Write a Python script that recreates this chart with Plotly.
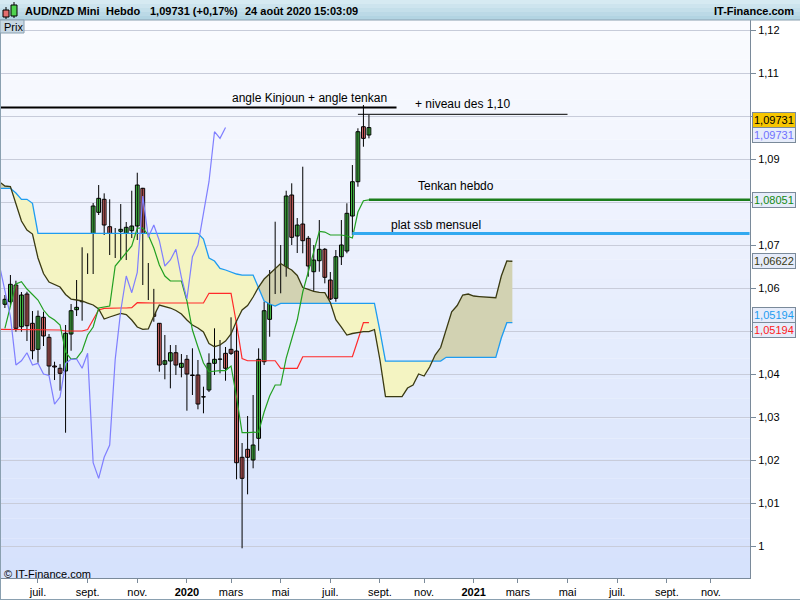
import numpy as np
import pandas as pd
import plotly.graph_objects as go

# ---------------- data ----------------
bar_dates = pd.date_range("2019-05-20", periods=67, freq="7D")   # weekly bars
opens = [1.05621, 1.05681, 1.06070, 1.05100, 1.05860, 1.05179, 1.04574, 1.05319, 1.04853, 1.04186,
         1.04133, 1.04070, 1.04930, 1.05495, 1.05681, 1.06767, 1.06574, 1.07760, 1.08063, 1.07426,
         1.07093, 1.07319, 1.07272, 1.07333, 1.07442, 1.08319, 1.06481, 1.05970, 1.05179, 1.04226,
         1.04302, 1.04495, 1.04156, 1.04342, 1.03977, 1.03977, 1.03472, 1.03628, 1.04249, 1.04342,
         1.04481, 1.04574, 1.04535, 1.02063, 1.02249, 1.02000, 1.02505, 1.04286, 1.05272, 1.06226,
         1.05970, 1.06419, 1.08163, 1.07209, 1.07488, 1.07156, 1.06379, 1.06635, 1.06900, 1.06186,
         1.05760, 1.06728, 1.06860, 1.07674, 1.08472, 1.09751, 1.09558]
highs = [1.05837, 1.06302, 1.06170, 1.05907, 1.05914, 1.05465, 1.05477, 1.05449, 1.04930, 1.04286,
         1.04230, 1.05140, 1.05628, 1.06186, 1.06947, 1.06807, 1.07977, 1.08395, 1.08202, 1.08063,
         1.07395, 1.07953, 1.07535, 1.08263, 1.08681, 1.08330, 1.06581, 1.05980, 1.05186, 1.04907,
         1.04674, 1.04674, 1.04465, 1.04442, 1.04598, 1.04326, 1.03705, 1.04481, 1.05063, 1.04791,
         1.04628, 1.05319, 1.05256, 1.02395, 1.03023, 1.03512, 1.04598, 1.05681, 1.06419, 1.07542,
         1.07000, 1.08263, 1.08435, 1.07628, 1.08821, 1.07210, 1.07000, 1.07581, 1.06930, 1.06372,
         1.06884, 1.07581, 1.07970, 1.08860, 1.09714, 1.10256, 1.10023]
lows = [1.05535, 1.05565, 1.04984, 1.04984, 1.04767, 1.04342, 1.04263, 1.04651, 1.03977, 1.03860,
        1.03612, 1.02635, 1.04542, 1.05349, 1.05240, 1.06326, 1.06326, 1.07698, 1.07233, 1.06767,
        1.06698, 1.06651, 1.06651, 1.07163, 1.07116, 1.06070, 1.05721, 1.05216, 1.04053, 1.03877,
        1.03667, 1.03977, 1.03923, 1.03147, 1.03512, 1.03179, 1.03086, 1.03581, 1.03977, 1.04016,
        1.03844, 1.04442, 1.01551, 0.99947, 1.01202, 1.01807, 1.02216, 1.04209, 1.04867, 1.05860,
        1.05877, 1.06263, 1.07000, 1.06814, 1.06807, 1.06263, 1.05914, 1.06379, 1.06109, 1.05721,
        1.05681, 1.06535, 1.06807, 1.07233, 1.08356, 1.09286, 1.09481]
closes = [1.05737, 1.06086, 1.05063, 1.05837, 1.05123, 1.04542, 1.05342, 1.04884, 1.04186, 1.04163,
          1.04016, 1.04947, 1.05472, 1.05551, 1.06767, 1.06574, 1.07907, 1.08086, 1.07465, 1.07209,
          1.07193, 1.07365, 1.07412, 1.07442, 1.08395, 1.06535, 1.05937, 1.05342, 1.04209, 1.04309,
          1.04495, 1.04209, 1.04249, 1.04000, 1.03965, 1.03302, 1.03465, 1.04249, 1.04342, 1.04349,
          1.04133, 1.04481, 1.01937, 1.01574, 1.02063, 1.02349, 1.04342, 1.05472, 1.06279, 1.05891,
          1.06365, 1.08140, 1.07179, 1.07465, 1.07100, 1.06512, 1.06651, 1.06900, 1.06249, 1.05744,
          1.06728, 1.07000, 1.07737, 1.08472, 1.09635, 1.09481, 1.09731]

tenkan_dates = pd.date_range("2019-05-20", periods=67, freq="7D")
tenkan = [1.05063, 1.05558, 1.06093, 1.06147, 1.05977, 1.05849, 1.05721, 1.05488, 1.05337, 1.05256,
          1.05140, 1.04512, 1.04349, 1.04365, 1.04535, 1.04907, 1.05093, 1.05535, 1.05558, 1.05581,
          1.06512, 1.06674, 1.06837, 1.06977, 1.07395, 1.07395, 1.07233, 1.06930, 1.06535, 1.06279,
          1.06163, 1.06163, 1.06163, 1.05698, 1.05023, 1.04628, 1.04256, 1.04053, 1.04070, 1.04081,
          1.04081, 1.04186, 1.03465, 1.02635, 1.02635, 1.02635, 1.02651, 1.03116, 1.03488, 1.03744,
          1.03744, 1.04372, 1.04791, 1.05256, 1.05907, 1.06372, 1.06837, 1.07314, 1.07302, 1.07233,
          1.07233, 1.07233, 1.07209, 1.07163, 1.07767, 1.08030, 1.08051]

kijun_dates = pd.date_range("2019-05-13", periods=68, freq="7D")
kijun = [1.05040, 1.05040, 1.05040, 1.05040, 1.05040, 1.05040, 1.05040, 1.05040, 1.05040, 1.05040,
         1.05040, 1.05023, 1.05000, 1.05000, 1.05000, 1.05000, 1.05035, 1.05256, 1.05488, 1.05528,
         1.05535, 1.05535, 1.05535, 1.05535, 1.05542, 1.05658, 1.05651, 1.05651, 1.05651, 1.05651,
         1.05651, 1.05651, 1.05651, 1.05651, 1.05651, 1.05651, 1.05651, 1.05651, 1.05877, 1.05877,
         1.05877, 1.05877, 1.05877, 1.05163, 1.04360, 1.04309, 1.04309, 1.04309, 1.04309, 1.04309,
         1.04309, 1.04133, 1.04133, 1.04133, 1.04133, 1.04402, 1.04402, 1.04402, 1.04402, 1.04402,
         1.04402, 1.04402, 1.04402, 1.04402, 1.04402, 1.04791, 1.05194, 1.05194]

cloud_dates = pd.date_range("2019-05-13", periods=94, freq="7D")   # spans shifted 26 weeks ahead
ssa = [1.08472, 1.08372, 1.08360, 1.07977, 1.07558, 1.07349, 1.07256, 1.06698, 1.06337, 1.06140,
       1.06081, 1.06023, 1.05849, 1.05744, 1.05721, 1.05698, 1.05651, 1.05605, 1.05512, 1.05279,
       1.05326, 1.05372, 1.05412, 1.05384, 1.05256, 1.05093, 1.05040, 1.05047, 1.05349, 1.05605,
       1.05570, 1.05535, 1.05477, 1.05395, 1.05256, 1.05140, 1.05070, 1.04977, 1.04709, 1.04635,
       1.04674, 1.04767, 1.04930, 1.05233, 1.05488, 1.05593, 1.05791, 1.06023, 1.06209, 1.06337,
       1.06465, 1.06570, 1.06488, 1.06419, 1.06291, 1.06012, 1.05970, 1.05923, 1.05900, 1.05891,
       1.05663, 1.05263, 1.05093, 1.04907, 1.04942, 1.04970, 1.04984, 1.04988, 1.05035, 1.04326,
       1.03472, 1.03472, 1.03472, 1.03477, 1.03674, 1.03744, 1.04000, 1.03953, 1.04163, 1.04442,
       1.04616, 1.05047, 1.05449, 1.05593, 1.05837, 1.05860, 1.05814, 1.05802, 1.05791, 1.05779,
       1.05774, 1.06279, 1.06628, 1.06622]
ssb = [1.08319, 1.08319, 1.08319, 1.08209, 1.08063, 1.08063, 1.07970, 1.07272, 1.07272, 1.07272,
       1.07272, 1.07272, 1.07272, 1.07272, 1.07272, 1.07272, 1.07272, 1.07272, 1.07272, 1.07272,
       1.07272, 1.07272, 1.07272, 1.07272, 1.07272, 1.07272, 1.07272, 1.07272, 1.07272, 1.07272,
       1.07272, 1.07272, 1.07272, 1.07272, 1.07272, 1.07272, 1.07272, 1.07140, 1.06698, 1.06628,
       1.06458, 1.06419, 1.06372, 1.06326, 1.06302, 1.06302, 1.06302, 1.06000, 1.05698, 1.05628,
       1.05581, 1.05644, 1.05644, 1.05644, 1.05644, 1.05644, 1.05644, 1.05644, 1.05644, 1.05644,
       1.05644, 1.05644, 1.05644, 1.05644, 1.05644, 1.05644, 1.05644, 1.05644, 1.05644, 1.05000,
       1.04302, 1.04302, 1.04302, 1.04302, 1.04302, 1.04302, 1.04302, 1.04302, 1.04302, 1.04302,
       1.04302, 1.04388, 1.04388, 1.04388, 1.04388, 1.04388, 1.04388, 1.04388, 1.04388, 1.04388,
       1.04388, 1.04837, 1.05194, 1.05194]

chikou_shift_weeks = 26

# hand-drawn lines on the chart
drawn_labels = ["angle Kinjoun + angle tenkan", "+ niveau des 1,10", "Tenkan hebdo", "plat ssb mensuel"]
drawn_levels = [1.1020, 1.1004, 1.08051, 1.0727]
drawn_start = ["2019-05-06", "2020-08-10", "2020-08-24", "2020-08-03"]
drawn_end = ["2020-09-28", "2021-05-03", "2021-12-27", "2021-12-20"]
drawn_colors = ["#000000", "#000000", "#1b7d1b", "#33aaf0"]
drawn_widths = [2, 1, 2.5, 3]

x_tickvals = ["2019-07-01", "2019-09-02", "2019-11-04", "2020-01-06", "2020-03-02", "2020-05-04",
              "2020-07-06", "2020-09-07", "2020-11-02", "2021-01-04", "2021-03-01", "2021-05-03",
              "2021-07-05", "2021-09-06", "2021-11-01"]
x_ticktext = ["juil.", "sept.", "nov.", "<b>2020</b>", "mars", "mai", "juil.", "sept.", "nov.",
              "<b>2021</b>", "mars", "mai", "juil.", "sept.", "nov."]
# 1,05 / 1,08 / 1,10 labels are hidden behind the value tags in the reference
y_tickvals = [1.00, 1.01, 1.02, 1.03, 1.04, 1.05, 1.06, 1.07, 1.08, 1.09, 1.10, 1.11, 1.12]
y_ticktext = ["1", "1,01", "1,02", "1,03", "1,04", "", "1,06", "1,07", "", "1,09", "", "1,11", "1,12"]

# ---------------- figure ----------------
FONT = "Liberation Sans, Arial, sans-serif"
W_PLOT, TOP, BOT = 750, 20, 578


def PX(x):
    return x / W_PLOT


def PY(y):
    return (BOT - y) / (BOT - TOP)


fig = go.Figure()

# cloud fill (split where the spans cross)
t = cloud_dates.values.astype("datetime64[ms]").astype(np.int64).astype(float)
a = np.array(ssa)
b = np.array(ssb)
segs = []
cx, ca, cb = [t[0]], [a[0]], [b[0]]
sign = a[0] >= b[0]
for i in range(1, len(t)):
    s = a[i] >= b[i]
    if s != sign:
        d0, d1 = a[i - 1] - b[i - 1], a[i] - b[i]
        f = d0 / (d0 - d1)
        xc = t[i - 1] + f * (t[i] - t[i - 1])
        yc = a[i - 1] + f * (a[i] - a[i - 1])
        cx.append(xc); ca.append(yc); cb.append(yc)
        segs.append((cx, ca, cb, sign))
        cx, ca, cb = [xc], [yc], [yc]
        sign = s
    cx.append(t[i]); ca.append(a[i]); cb.append(b[i])
segs.append((cx, ca, cb, sign))
for sx, sa, sb, sg in segs:
    xs = list(sx) + list(sx)[::-1]
    ys = list(sa) + list(sb)[::-1]
    fig.add_trace(go.Scatter(
        x=pd.to_datetime(np.array(xs), unit="ms"), y=ys, mode="lines", fill="toself",
        fillcolor="#d2d2b2" if sg else "#f4f4c2", line=dict(width=0), hoverinfo="skip"))

# candles: wicks + bodies
wx, wy = [], []
for d, lo, hi in zip(bar_dates, lows, highs):
    wx += [d, d, None]
    wy += [lo, hi, None]
fig.add_trace(go.Scatter(x=wx, y=wy, mode="lines", line=dict(color="black", width=1), hoverinfo="skip"))
body_col = ["#4fd34f" if c >= o else "#e46e6e" for o, c in zip(opens, closes)]
fig.add_trace(go.Bar(x=bar_dates, y=[c - o for o, c in zip(opens, closes)], base=opens,
                     width=4.8 * 86400000, marker=dict(color=body_col, line=dict(color="black", width=1))))

# ichimoku lines
fig.add_trace(go.Scatter(x=kijun_dates, y=kijun, mode="lines", line=dict(color="#ff2a2a", width=1.2)))
fig.add_trace(go.Scatter(x=cloud_dates, y=ssb, mode="lines", line=dict(color="#1e9cf0", width=1.3)))
fig.add_trace(go.Scatter(x=cloud_dates, y=ssa, mode="lines", line=dict(color="#3a3a12", width=1.3)))
fig.add_trace(go.Scatter(x=tenkan_dates, y=tenkan, mode="lines", line=dict(color="#22a022", width=1.2)))
fig.add_trace(go.Scatter(x=bar_dates - pd.Timedelta(weeks=chikou_shift_weeks), y=closes, mode="lines",
                         line=dict(color="#7f7fff", width=1.2)))

# drawn lines
for lv, d0, d1, col, w in zip(drawn_levels, drawn_start, drawn_end, drawn_colors, drawn_widths):
    fig.add_trace(go.Scatter(x=[d0, d1], y=[lv, lv], mode="lines", line=dict(color=col, width=w)))

# ---------------- decorations ----------------
shapes = []
# plot gradient background
n = 28
c0, c1 = np.array([250, 251, 255]), np.array([214, 226, 252])
for i in range(n):
    f = i / (n - 1)
    c = (c0 + (c1 - c0) * f).astype(int)
    y0 = TOP + i * (BOT - TOP) / n
    y1 = TOP + (i + 1) * (BOT - TOP) / n
    shapes.append(dict(type="rect", xref="paper", yref="paper", x0=0, x1=1, y0=PY(y1), y1=PY(y0),
                       fillcolor=f"rgb({c[0]},{c[1]},{c[2]})", line=dict(width=0), layer="below"))
# header band
hc0, hc1 = np.array([214, 234, 242]), np.array([178, 212, 226])
for i in range(5):
    f = i / 4
    c = (hc0 + (hc1 - hc0) * f).astype(int)
    shapes.append(dict(type="rect", xref="paper", yref="paper", x0=0, x1=PX(800),
                       y0=PY(4 * (i + 1)), y1=PY(4 * i),
                       fillcolor=f"rgb({c[0]},{c[1]},{c[2]})", line=dict(width=0), layer="below"))
shapes.append(dict(type="line", xref="paper", yref="paper", x0=0, x1=PX(800), y0=PY(20), y1=PY(20),
                   line=dict(color="#8aa0b0", width=1)))
shapes.append(dict(type="line", xref="paper", yref="paper", x0=PX(0.5), x1=PX(0.5), y0=PY(20), y1=PY(600),
                   line=dict(color="#8aa0b0", width=1)))
shapes.append(dict(type="line", xref="paper", yref="paper", x0=0, x1=PX(800), y0=PY(599.5), y1=PY(599.5),
                   line=dict(color="#8aa0b0", width=1)))
# Prix box
shapes.append(dict(type="rect", xref="paper", yref="paper", x0=0, x1=PX(24), y0=PY(33), y1=PY(20),
                   fillcolor="#c8d8e4", line=dict(color="#8aa0b0", width=1)))
# header icon candles
shapes += [
    dict(type="line", xref="paper", yref="paper", x0=PX(6), x1=PX(6), y0=PY(19), y1=PY(7), line=dict(color="black", width=1)),
    dict(type="rect", xref="paper", yref="paper", x0=PX(3), x1=PX(9), y0=PY(17), y1=PY(10), fillcolor="#e46e6e", line=dict(color="black", width=1)),
    dict(type="line", xref="paper", yref="paper", x0=PX(14), x1=PX(14), y0=PY(18), y1=PY(2), line=dict(color="black", width=1)),
    dict(type="rect", xref="paper", yref="paper", x0=PX(11), x1=PX(17), y0=PY(16), y1=PY(5), fillcolor="#4fd34f", line=dict(color="black", width=1)),
]

ann = []
hdr = [("AUD/NZD Mini", 23), ("Hebdo", 104), ("1,09731 (+0,17%)", 148), ("24 août 2020 15:03:09", 243)]
for txt, xx in hdr:
    ann.append(dict(xref="paper", yref="paper", x=PX(xx), y=PY(10.5), xanchor="left", yanchor="middle",
                    text=f"<b>{txt}</b>", showarrow=False, font=dict(size=11, color="black", family=FONT)))
ann.append(dict(xref="paper", yref="paper", x=PX(796), y=PY(10.5), xanchor="right", yanchor="middle",
                text="<b>IT-Finance.com</b>", showarrow=False, font=dict(size=11, color="black", family=FONT)))
ann.append(dict(xref="paper", yref="paper", x=PX(2), y=PY(26.5), xanchor="left", yanchor="middle",
                text="Prix", showarrow=False, font=dict(size=11, color="black", family=FONT)))
ann.append(dict(xref="paper", yref="paper", x=PX(2), y=PY(574), xanchor="left", yanchor="middle",
                text="© IT-Finance.com", showarrow=False, font=dict(size=11, color="black", family=FONT)))

# text of drawn lines
label_pos = [(309, 98), (463, 104), (456, 186), (436, 225)]
for txt, (xx, yy) in zip(drawn_labels, label_pos):
    ann.append(dict(xref="paper", yref="paper", x=PX(xx), y=PY(yy), xanchor="center", yanchor="middle",
                    text=txt, showarrow=False, font=dict(size=12, color="black", family=FONT)))


def fmt(v):
    return f"{v:.5f}".replace(".", ",")


value_tags = [
    (closes[-1], "#000000", "#f7c600", 8),
    (closes[-1], "#7070ff", "#e6ecfa", -7),
    (tenkan[-1], "#138a13", "#e6ecfa", 0),
    (ssa[-1], "#3a3a12", "#e6ecfa", 0),
    (ssb[-1], "#1e9cf0", "#e6ecfa", 8),
    (kijun[-1], "#ff2020", "#e6ecfa", -7),
]
for v, fc, bg, ys in value_tags:
    ann.append(dict(xref="paper", yref="y", x=1, y=v, xanchor="left", yanchor="middle", xshift=2, yshift=ys,
                    text=fmt(v), showarrow=False, font=dict(size=11, color=fc, family=FONT),
                    bgcolor=bg, bordercolor="#7a8a9a", borderwidth=1, borderpad=1))

fig.update_layout(
    width=800, height=600, margin=dict(l=0, r=50, t=20, b=22),
    paper_bgcolor="white", plot_bgcolor="rgba(0,0,0,0)", showlegend=False,
    font=dict(family=FONT, size=11, color="black"),
    shapes=shapes, annotations=ann,
    xaxis=dict(type="date", range=["2019-05-13 19:00", "2021-12-20 14:00"], tickvals=x_tickvals,
               ticktext=x_ticktext, ticks="outside", ticklen=4, tickcolor="#7a8a9a", showgrid=False,
               showline=True, linecolor="#7a8a9a", zeroline=False, tickfont=dict(size=11, color="black"),
               fixedrange=True),
    yaxis=dict(side="right", range=[0.99256, 1.12233], tickvals=y_tickvals, ticktext=y_ticktext,
               ticks="outside", ticklen=5, tickcolor="#7a8a9a", showgrid=True, gridcolor="#c8ccda",
               showline=True, linecolor="#7a8a9a", zeroline=False, tickfont=dict(size=11, color="black"),
               fixedrange=True),
)

fig.write_html("out.html", config={"displayModeBar": False},
               post_script="document.body.style.margin='0px';document.body.style.padding='0px';")
